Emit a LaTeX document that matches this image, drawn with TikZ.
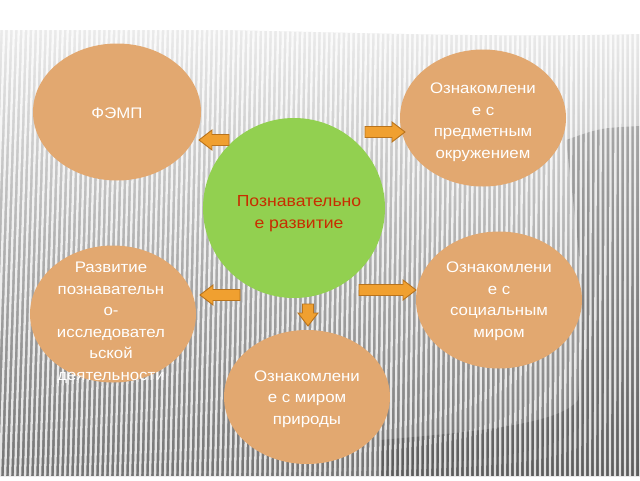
\documentclass[tikz,border=0pt]{standalone}
\usepackage{fontspec}
\setmainfont{Liberation Sans}[FakeStretch=1.1]
\usetikzlibrary{shapes.geometric}
\definecolor{tanc}{RGB}{226,168,112}
\definecolor{greenc}{RGB}{146,208,80}
\definecolor{redtext}{RGB}{200,45,0}
\definecolor{arrfill}{RGB}{240,160,48}
\definecolor{arrdraw}{RGB}{185,115,28}
\newcommand{\blockarr}[5]{% name, x, y, angle, length
  \coordinate (#1) at (#2,#3);
  \draw[blockarrow, shift={(#1)}, rotate=#4]
    (0,-5.5) -- ({#5-13},-5.5) -- ({#5-13},-10) -- (#5,0) -- ({#5-13},10) -- ({#5-13},5.5) -- (0,5.5) -- cycle;}
\begin{document}
\begin{tikzpicture}[x=1pt,y=-1pt,
  bubble/.style={ellipse, fill=tanc, draw=none, inner sep=0pt},
  lbl/.style={text=white, align=center, inner sep=0pt, font=\fontsize{15.3}{21.5}\selectfont},
  clbl/.style={text=redtext, align=center, inner sep=0pt, font=\fontsize{16}{22}\selectfont},
  blockarrow/.style={fill=arrfill, draw=arrdraw, line width=0.9pt, line join=miter}]
\useasboundingbox (0,0) rectangle (640,480);
\fill[white] (0,0) rectangle (640,480);
% striped background
\begin{scope}
  \clip (0,30) .. controls (200,24) and (420,40) .. (640,34) -- (640,476) -- (0,476) -- cycle;
  \shade[top color=black!8, bottom color=black!55] (0,30) rectangle (640,476);
  \fill[black, opacity=0.2] (566,140) .. controls (600,128) .. (640,126) -- (640,476) -- (380,476) -- (380,440)
     .. controls (470,432) and (560,425) .. (578,400) .. controls (585,300) .. (566,140) -- cycle;
  \foreach \i in {-10,...,130} {
    \pgfmathsetmacro\xx{5*\i}
    \pgfmathsetmacro\tl{14*(1-\xx/640)}
    \draw[white, line width=2.3pt, opacity=0.8] (\xx,478) -- ({\xx+\tl},26);
  }
\end{scope}
% bubbles
\node[bubble, minimum width=168pt, minimum height=137pt] (femp) at (117,112) {};
\node[bubble, minimum width=166pt, minimum height=137pt] (predm) at (483,118) {};
\node[ellipse, fill=greenc, inner sep=0pt, minimum width=182pt, minimum height=180pt] (center) at (294,208) {};
\node[bubble, minimum width=166pt, minimum height=137pt] (razv) at (113,314) {};
\node[bubble, minimum width=166pt, minimum height=137pt] (soc) at (499,300) {};
\node[bubble, minimum width=166pt, minimum height=134pt] (prir) at (307,397) {};
% labels
\node[lbl] (tfemp) at (117,113) {ФЭМП};
\node[lbl] (tpredm) at (483,122) {Ознакомлени\\е с\\предметным\\окружением};
\node[clbl] (tcenter) at (299,214) {Познавательно\\е развитие};
\node[lbl] (trazv) at (111,323) {Развитие\\познавательн\\о-\\исследовател\\ьской\\деятельности};
\node[lbl] (tsoc) at (499,301) {Ознакомлени\\е с\\социальным\\миром};
\node[lbl] (tprir) at (307,399) {Ознакомлени\\е с миром\\природы};
% block arrows
\blockarr{a1}{229}{140}{180}{30}
\blockarr{a2}{365}{132}{0}{40}
\blockarr{a3}{240}{295}{180}{40}
\blockarr{a4}{359}{290}{0}{57}
\blockarr{a5}{308}{304}{-90}{22}
\end{tikzpicture}
\end{document}
